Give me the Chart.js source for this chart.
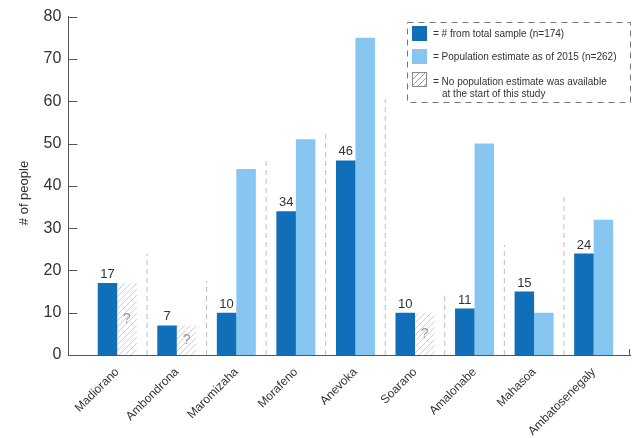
<!DOCTYPE html>
<html><head><meta charset="utf-8">
<script src="https://cdn.jsdelivr.net/npm/chart.js@4.4.1/dist/chart.umd.min.js"></script>
<style>html,body{margin:0;padding:0;background:#fff;}#wrap{width:636px;height:438px;}</style>
</head><body><div id="wrap"><canvas id="c" width="636" height="438"></canvas></div>
<script>
const categories = ['Madiorano','Ambondrona','Maromizaha','Morafeno','Anevoka','Soarano','Amalonabe','Mahasoa','Ambatosenegaly'];
const totalSample = [17,7,10,34,46,10,11,15,24];
const popEstimate2015 = [null,null,44,51,75,null,50,10,32];
const noEstimate = [17,7,null,null,null,10,null,null,null];
const separatorTops = [24,17.5,46,52.5,60.5,15,26,38];
const yTicks = [0,10,20,30,40,50,60,70,80];
const seriesLabels = ['= # from total sample (n=174)','= Population estimate as of 2015 (n=262)','= No population estimate was available','at the start of this study'];

const FONT = '"Liberation Sans", Arial, Helvetica, sans-serif';
const DARK = '#116fba', LIGHT = '#86c6f0';

const ctx0 = document.getElementById('c').getContext('2d');
function makeHatch(color){
  const p = document.createElement('canvas'); p.width = 6; p.height = 6;
  const g = p.getContext('2d');
  g.fillStyle = '#fff'; g.fillRect(0,0,6,6);
  g.strokeStyle = color; g.lineWidth = 1;
  g.beginPath();
  g.moveTo(0,6); g.lineTo(6,0);
  g.moveTo(-1,1); g.lineTo(1,-1);
  g.moveTo(5,7); g.lineTo(7,5);
  g.stroke();
  return ctx0.createPattern(p,'repeat');
}
const hatch = makeHatch('#cfcfcf');
const hatchDark = makeHatch('#9a9a9a');

const pts = arr => arr.map((v,i)=>({x:i+1, y:v}));

const datasets = [
  {type:'bar', label:seriesLabels[0], data:pts(totalSample), backgroundColor:DARK, stack:'a'},
  {type:'bar', label:seriesLabels[1], data:pts(popEstimate2015), backgroundColor:LIGHT, stack:'b'},
  {type:'bar', label:seriesLabels[2], data:pts(noEstimate), backgroundColor:hatch, stack:'b'}
].concat(separatorTops.map((t,i)=>({
  type:'line', label:'sep'+i, data:[{x:i+1.5,y:0},{x:i+1.5,y:t}],
  borderColor:'#bdbdbd', borderDash:[5,4], borderWidth:1, pointRadius:0, fill:false, tension:0
})));

const deco = {
  id:'deco',
  afterDatasetsDraw(chart){
    const ctx = chart.ctx;
    const {left,right,top,bottom} = chart.chartArea;
    const y = chart.scales.y;
    ctx.save();
    ctx.strokeStyle = '#555'; ctx.lineWidth = 1;
    yTicks.forEach(v=>{
      const py = Math.round(y.getPixelForValue(v)) + 0.5;
      ctx.beginPath(); ctx.moveTo(left, py); ctx.lineTo(left+9, py); ctx.stroke();
    });
    ctx.beginPath(); ctx.moveTo(Math.round(right)-0.5, bottom); ctx.lineTo(Math.round(right)-0.5, bottom-6); ctx.stroke();

    // value labels
    ctx.font = '13px ' + FONT; ctx.fillStyle = '#333'; ctx.textAlign = 'center'; ctx.textBaseline = 'bottom';
    chart.getDatasetMeta(0).data.forEach((el,i)=>{
      if (totalSample[i] == null) return;
      ctx.fillText(String(totalSample[i]), el.x, el.y - 2);
    });
    ctx.fillStyle = '#999'; ctx.textBaseline = 'middle'; ctx.font = '14px ' + FONT;
    chart.getDatasetMeta(2).data.forEach((el,i)=>{
      if (noEstimate[i] == null) return;
      ctx.fillText('?', el.x, (el.y + el.base)/2);
    });

    // legend
    const lx = 407.5, ly = 22.5, lw = 223, lh = 80;
    ctx.setLineDash([6,5]); ctx.strokeStyle = '#777';
    ctx.strokeRect(lx, ly, lw, lh);
    ctx.setLineDash([]);
    ctx.fillStyle = DARK; ctx.fillRect(412, 26, 15, 15);
    ctx.fillStyle = LIGHT; ctx.fillRect(412, 49, 15, 15);
    ctx.fillStyle = hatchDark; ctx.fillRect(412, 72, 15, 15);
    ctx.strokeStyle = '#888'; ctx.strokeRect(412.5, 72.5, 14, 14);
    ctx.fillStyle = '#333'; ctx.textAlign = 'left'; ctx.textBaseline = 'middle'; ctx.font = '10px ' + FONT;
    ctx.fillText(seriesLabels[0], 433, 34);
    ctx.fillText(seriesLabels[1], 433, 57);
    ctx.fillText(seriesLabels[2], 433, 82);
    ctx.fillText(seriesLabels[3], 442, 94);
    ctx.restore();
  }
};

new Chart(ctx0, {
  data:{datasets},
  options:{
    responsive:false, animation:false,
    layout:{padding:{top:8, right:6, left:17, bottom:0}},
    datasets:{bar:{categoryPercentage:0.655, barPercentage:1.0, borderWidth:0}},
    plugins:{legend:{display:false}, tooltip:{enabled:false}},
    scales:{
      x:{
        type:'linear', min:0.18, max:9.61, offset:false,
        afterBuildTicks: s => { s.ticks = categories.map((c,i)=>({value:i+1})); },
        afterFit: s => { s.height = 83; },
        ticks:{callback:(v)=>categories[Math.round(v)-1] || '', autoSkip:false, maxRotation:45, minRotation:45,
               font:{size:12, family:FONT}, color:'#333', padding:10},
        grid:{display:false, drawTicks:false, offset:false},
        border:{color:'#555', width:1}
      },
      y:{
        min:0, max:80,
        afterBuildTicks: s => { s.ticks = yTicks.map(v=>({value:v})); },
        ticks:{font:{size:16, family:FONT}, color:'#333', padding:7},
        grid:{display:false, drawTicks:false},
        border:{color:'#555', width:1},
        title:{display:true, text:'# of people    ', font:{size:13, family:FONT}, color:'#333', padding:{top:0,bottom:4}}
      }
    }
  },
  plugins:[deco]
});
</script>
</body></html>
